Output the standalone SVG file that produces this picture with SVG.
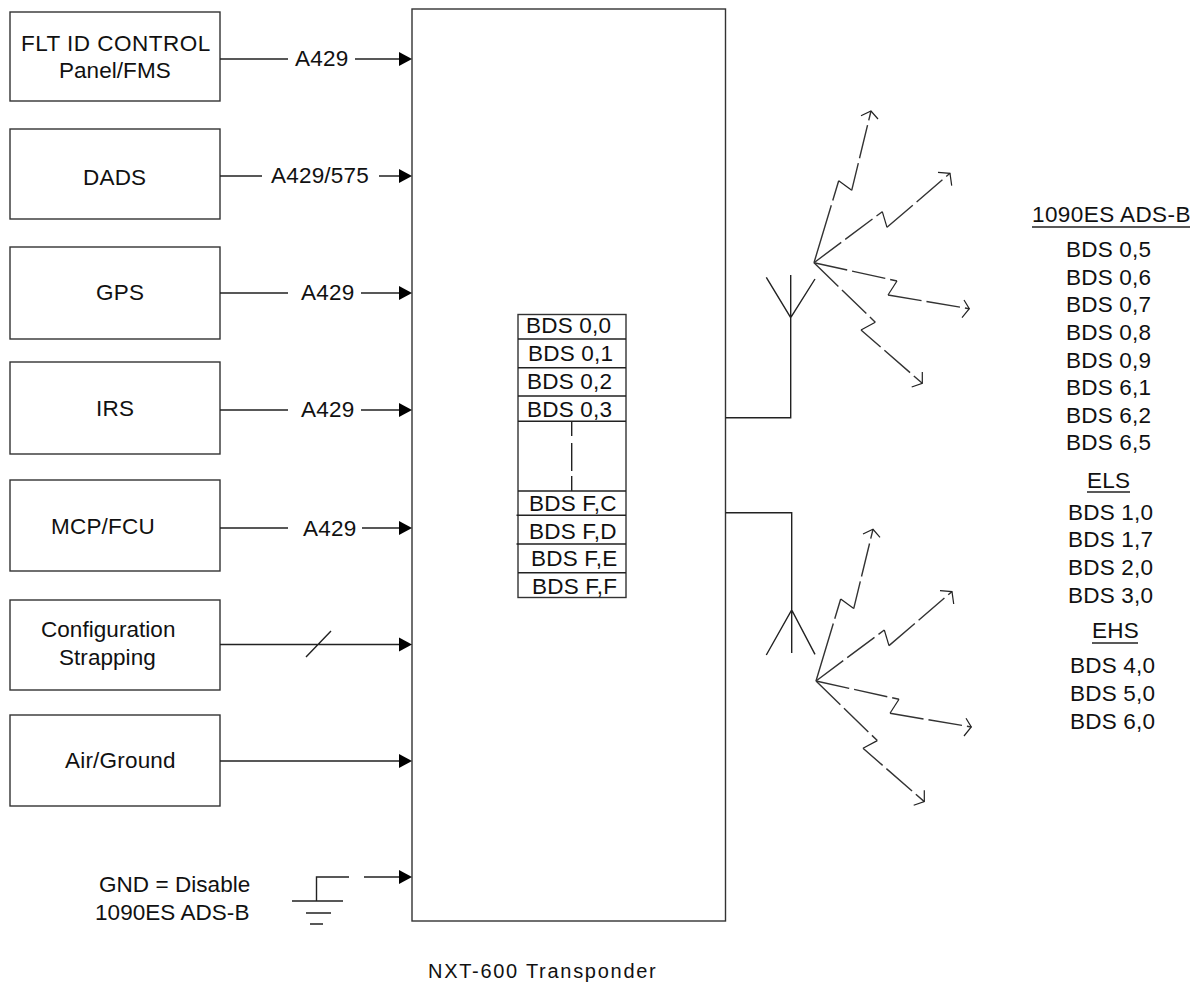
<svg xmlns="http://www.w3.org/2000/svg" width="1194" height="983" viewBox="0 0 1194 983">
<style>
text{font-family:"Liberation Sans",Arial,sans-serif;font-size:22.5px;fill:#111;letter-spacing:.2px}
.t{letter-spacing:.05px}
.b{fill:#fff;stroke:#333;stroke-width:1.4}
.l{fill:none;stroke:#222;stroke-width:1.4}
.d{fill:none;stroke:#333;stroke-width:1.4;stroke-dasharray:34 5}
.e{fill:none;stroke:#333;stroke-width:1.4;stroke-dasharray:60 5}
.h{fill:none;stroke:#222;stroke-width:1.2}
.u{fill:none;stroke:#222;stroke-width:1.4}
</style>
<defs>
<polygon id="ah" points="0,0 -13,-7 -13,7" fill="#000"/>
<g id="rays">
<path class="e" d="M814 262.700L838.700 180.700"/><path class="h" d="M838.700 180.700L851.700 190.300"/><path class="d" d="M851.700 190.300L871 111" stroke-dashoffset="6"/><path class="h" d="M861 115.700L871 111L878 119"/>
<path class="d" d="M814 262.700L882.300 211.700"/><path class="h" d="M882.300 211.700L887 227.300"/><path class="d" d="M887 227.300L950 173.300"/><path class="h" d="M938 172.300L950 173.300L951.700 185.700"/>
<path class="d" d="M814 262.700L897 281"/><path class="h" d="M897 281L888 295"/><path class="d" d="M888 295L969.300 308.700"/><path class="h" d="M964 300L969.300 308.700L962 317.700"/>
<path class="d" d="M814 262.700L875.300 322.300"/><path class="h" d="M875.300 322.300L861 330"/><path class="d" d="M861 330L922.300 383.300" stroke-dashoffset="8"/><path class="h" d="M922.300 372L922.300 383.300L911.700 387"/>
</g>
</defs>
<g id="transponder"><rect class="b" x="412" y="9" width="313.500" height="912"/></g>
<g id="n1"><rect class="b" x="10" y="12" width="210" height="89"/><text x="21" y="51" style="letter-spacing:.48px">FLT ID CONTROL</text><text x="59" y="78" class="t">Panel/FMS</text></g>
<g id="n2"><rect class="b" x="10" y="129" width="210" height="90"/><text x="83" y="185">DADS</text></g>
<g id="n3"><rect class="b" x="10" y="247" width="210" height="92"/><text x="96" y="300">GPS</text></g>
<g id="n4"><rect class="b" x="10" y="362" width="210" height="92"/><text x="96" y="416">IRS</text></g>
<g id="n5"><rect class="b" x="10" y="480" width="210" height="91"/><text x="51" y="534">MCP/FCU</text></g>
<g id="n6"><rect class="b" x="10" y="600" width="210" height="90"/><text x="41" y="637" class="t">Configuration</text><text x="59" y="665" class="t">Strapping</text></g>
<g id="n7"><rect class="b" x="10" y="715" width="210" height="91"/><text x="65" y="768">Air/Ground</text></g>
<g id="gnd"><text x="99" y="892" class="t">GND = Disable</text><text x="95" y="920" class="t">1090ES ADS-B</text>
<path class="l" d="M349 877H316.500V901M292 901H343M306 913H331M310 924H323"/></g>
<g id="connectors">
<path class="l" d="M220 59H288M355 59H400M220 176H262M379 176H400M220 293H288M361 293H400M220 410H288M361 410H400M220 528H288M362 528H400M220 644.500H400M220 761H400M364 877H400M306 657L331 631"/>
<use href="#ah" x="412" y="59"/><use href="#ah" x="412" y="176"/><use href="#ah" x="412" y="293"/><use href="#ah" x="412" y="410"/><use href="#ah" x="412" y="528"/><use href="#ah" x="412" y="644.500"/><use href="#ah" x="412" y="761"/><use href="#ah" x="412" y="877"/>
<text x="295" y="66">A429</text><text x="271" y="183">A429/575</text><text x="301" y="300">A429</text><text x="301" y="417">A429</text><text x="303" y="536">A429</text>
</g>
<g id="bds-table">
<rect class="b" x="518" y="314.500" width="108" height="283"/>
<path class="l" d="M518 339H626M518 367.700H626M518 396H626M518 421.300H626M518 491H626M516.500 515.300H626M516.500 544H626M518 572.700H626"/>
<path class="l" d="M571.700 421V436M571.700 443V471M571.700 476V491"/>
<text x="526" y="333">BDS 0,0</text><text x="528" y="361">BDS 0,1</text><text x="527" y="389">BDS 0,2</text><text x="527" y="417">BDS 0,3</text>
<text x="529" y="511">BDS F,C</text><text x="529" y="539">BDS F,D</text><text x="531" y="566">BDS F,E</text><text x="532" y="594">BDS F,F</text>
</g>
<g id="antenna-1"><path class="l" d="M725.500 417.700H790.700V275M766.300 277.300L790.700 317.700L815 279"/><use href="#rays"/></g>
<g id="antenna-2"><path class="l" d="M725.500 512.700H791.700V653M766.300 655L791.700 610L815 654.300"/><use href="#rays" x="2" y="418.300"/></g>
<g id="lists">
<text x="1032" y="222" style="letter-spacing:.42px">1090ES ADS-B</text><path class="u" d="M1032 227H1190"/>
<text x="1066" y="257">BDS 0,5</text><text x="1066" y="285">BDS 0,6</text><text x="1066" y="312">BDS 0,7</text><text x="1066" y="340">BDS 0,8</text><text x="1066" y="368">BDS 0,9</text><text x="1066" y="395">BDS 6,1</text><text x="1066" y="423">BDS 6,2</text><text x="1066" y="450">BDS 6,5</text>
<text x="1087" y="488">ELS</text><path class="u" d="M1087 492H1130"/>
<text x="1068" y="520">BDS 1,0</text><text x="1068" y="547">BDS 1,7</text><text x="1068" y="575">BDS 2,0</text><text x="1068" y="603">BDS 3,0</text>
<text x="1092" y="638">EHS</text><path class="u" d="M1092 643H1138"/>
<text x="1070" y="673">BDS 4,0</text><text x="1070" y="701">BDS 5,0</text><text x="1070" y="729">BDS 6,0</text>
</g>
<text x="428" y="978" style="font-size:20px;letter-spacing:1.72px">NXT-600 Transponder</text>
</svg>
